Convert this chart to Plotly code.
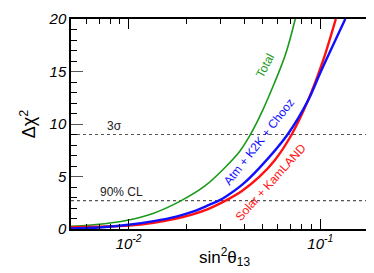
import math
import plotly.graph_objects as go

# ---- data ----
total_x = [0.005, 0.0075, 0.01, 0.0135, 0.0188, 0.025, 0.032, 0.038, 0.0435, 0.05, 0.0576, 0.066, 0.074]
total_y = [0.25, 0.5, 0.85, 1.5, 2.7, 4.1, 5.9, 7.4, 9.1, 11.3, 13.9, 16.7, 20.0]

atm_x = [0.005, 0.007, 0.01, 0.0135, 0.0177, 0.0216, 0.0263, 0.0297, 0.0322, 0.039, 0.048, 0.0675, 0.0861, 0.1007, 0.135]
atm_y = [0.05, 0.15, 0.4, 0.75, 1.18, 1.65, 2.3, 2.73, 3.1, 4.2, 5.8, 9.0, 12.2, 15.0, 20.0]

sol_x = [0.005, 0.007, 0.01, 0.0135, 0.0177, 0.0216, 0.0263, 0.0322, 0.039, 0.048, 0.058, 0.0709, 0.0861, 0.1032, 0.1205]
sol_y = [0.16, 0.22, 0.32, 0.6, 1.0, 1.4, 1.95, 2.73, 3.63, 4.96, 6.58, 9.0, 12.2, 16.0, 20.0]

cl_levels = [2.71, 9.0]
cl_labels = ["90% CL", "3σ"]
cl_label_x = [0.0092, 0.0084]

x_range = [0.005, 0.2]
y_range = [0, 20]

GREEN = "#1a9a1a"
BLUE = "#1010ff"
RED = "#ff1010"

fig = go.Figure()
fig.add_trace(go.Scatter(x=total_x, y=total_y, mode="lines",
                         line=dict(color=GREEN, width=1.6, shape="spline", smoothing=1.0)))
fig.add_trace(go.Scatter(x=sol_x, y=sol_y, mode="lines",
                         line=dict(color=RED, width=2.4, shape="spline", smoothing=1.0)))
fig.add_trace(go.Scatter(x=atm_x, y=atm_y, mode="lines",
                         line=dict(color=BLUE, width=2.4, shape="spline", smoothing=1.0)))

for lvl, lab, lx in zip(cl_levels, cl_labels, cl_label_x):
    fig.add_shape(type="line", xref="paper", x0=0, x1=1, yref="y", y0=lvl, y1=lvl,
                  line=dict(color="#555555", width=1.2, dash="dot"), layer="below")
    fig.add_annotation(x=math.log10(lx), y=lvl, xref="x", yref="y", text=lab,
                       showarrow=False, yanchor="bottom", yshift=0,
                       font=dict(family="Liberation Sans, Arial", size=12, color="#222222"))

curve_labels = [
    ("Total", 0.0515, 15.5, -62, GREEN),
    ("Atm + K2K + Chooz", 0.0478, 8.3, -52, BLUE),
    ("Solar + KamLAND", 0.0552, 4.5, -48, RED),
]
for txt, lx, ly, ang, col in curve_labels:
    fig.add_annotation(x=math.log10(lx), y=ly, xref="x", yref="y", text=txt,
                       showarrow=False, textangle=ang,
                       font=dict(family="Liberation Sans, Arial", size=12, color=col))

minor_x = [0.006, 0.007, 0.008, 0.009, 0.02, 0.03, 0.04, 0.05, 0.06, 0.07, 0.08, 0.09, 0.2]

fig.update_xaxes(type="log", range=[math.log10(x_range[0]), math.log10(x_range[1])],
                 showgrid=False, zeroline=False,
                 showline=True, linecolor="black", linewidth=1.5, mirror="allticks",
                 ticks="inside", ticklen=10, tickwidth=1.2, tickcolor="black",
                 tickvals=[0.01, 0.1], ticktext=["10<sup>-2</sup>", "10<sup>-1</sup>"],
                 tickfont=dict(family="Liberation Sans, Arial", size=15, color="black", style="italic"),
                 minor=dict(tickvals=minor_x, ticks="inside", ticklen=5, tickwidth=1.2, tickcolor="black"),
                 title=dict(text="sin<sup>2</sup>θ<sub>13</sub>", standoff=0,
                            font=dict(family="Liberation Sans, Arial", size=17, color="black")))
fig.update_yaxes(range=y_range, showgrid=False, zeroline=False,
                 showline=True, linecolor="black", linewidth=1.5, mirror="allticks",
                 ticks="inside", ticklen=12, tickwidth=1.2, tickcolor="#555555",
                 tickvals=[0, 5, 10, 15, 20], ticklabeloverflow="allow",
                 tickfont=dict(family="Liberation Sans, Arial", size=15, color="black", style="italic"),
                 minor=dict(dtick=1, ticks="inside", ticklen=6, tickwidth=1.2, tickcolor="black"),
                 title=dict(text="Δχ<sup>2</sup>", standoff=8,
                            font=dict(family="Liberation Sans, Arial", size=18, color="black")))

fig.update_layout(width=374, height=273, showlegend=False,
                  margin=dict(l=63, r=2, t=6, b=52),
                  plot_bgcolor="white", paper_bgcolor="white")

fig.write_html("out.html")
